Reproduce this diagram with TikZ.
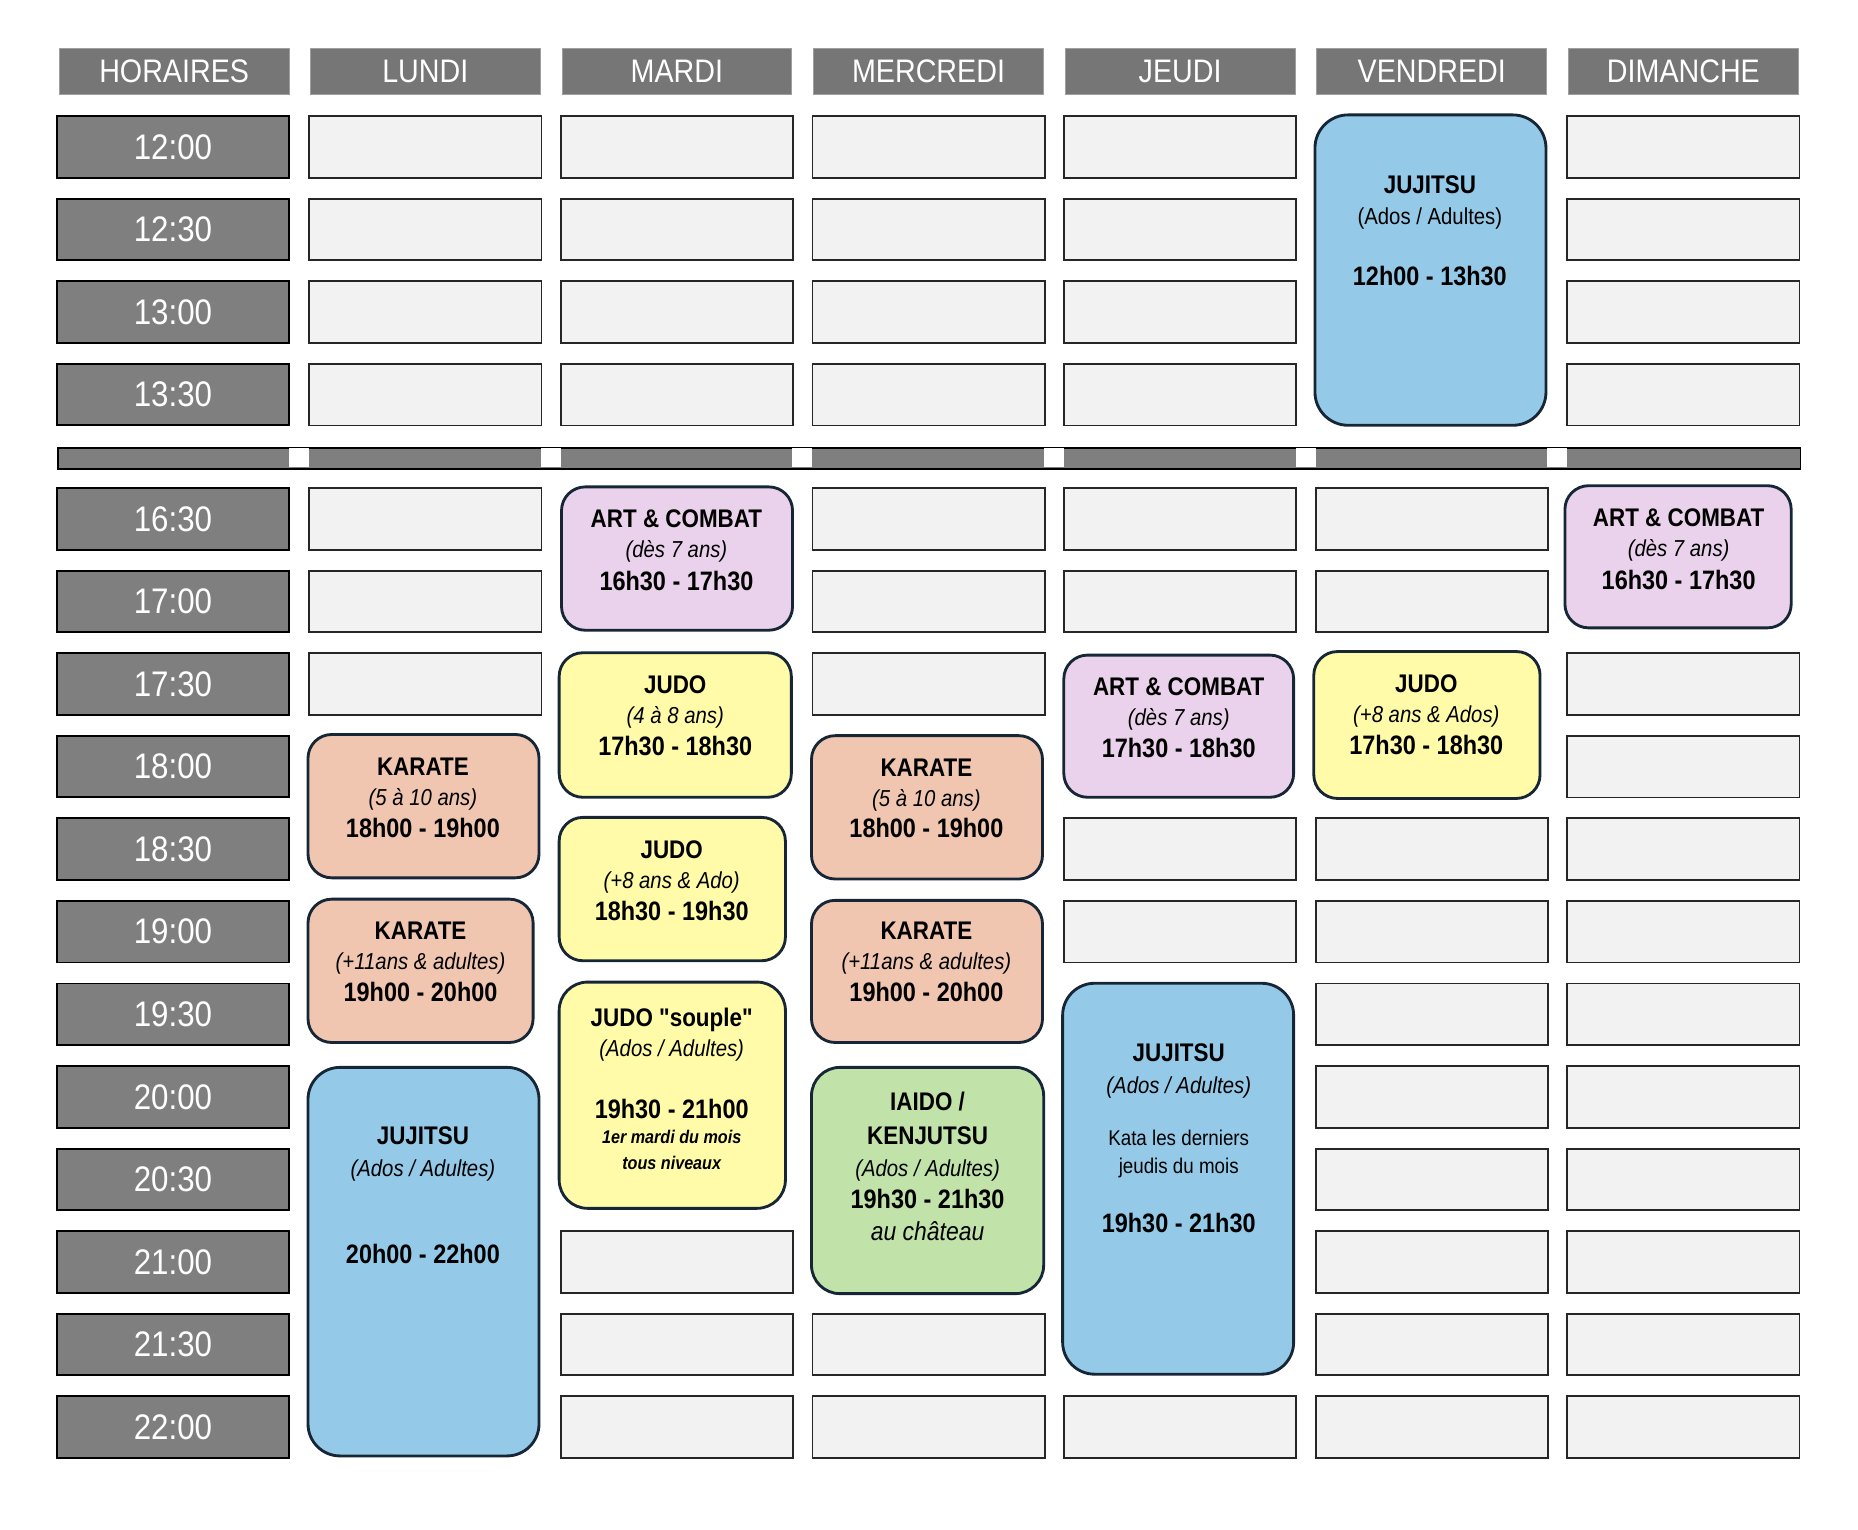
\documentclass[tikz,border=0pt]{standalone}
\usepackage{fontspec}
\setmainfont{Liberation Sans}[FakeStretch=0.88,Ligatures=TeXOff]
\definecolor{hdrgray}{RGB}{118,118,118}
\definecolor{timegray}{RGB}{127,127,127}
\definecolor{cellgray}{RGB}{242,242,242}
\definecolor{evborder}{RGB}{22,38,54}
\definecolor{evblue}{RGB}{148,202,232}
\definecolor{evpurple}{RGB}{235,210,236}
\definecolor{evyellow}{RGB}{255,251,168}
\definecolor{evsalmon}{RGB}{240,198,176}
\definecolor{evgreen}{RGB}{193,227,170}
\newcommand\evbox[7]{%
  \node[evstyle,fill=#6,rounded corners=#7pt,anchor=north west,
        minimum width={(#4-#2)*1pt},minimum height={(#5-#3)*1pt}] (#1) at (#2,#3) {};}
\begin{document}
\begin{tikzpicture}[x=1pt,y=-1pt,
  hdr/.style={fill=hdrgray,draw=hdrgray!70,line width=0.8pt,minimum width=194pt,minimum height=39pt,
    inner sep=0pt,text=white,font=\fontsize{27.5}{27.5}\selectfont,text height=18.9pt,text depth=0pt},
  timecell/.style={fill=timegray,draw=black,line width=1.6pt,minimum width=196pt,minimum height=52pt,
    inner sep=0pt,text=white,font=\fontsize{30}{30}\selectfont,text height=20.6pt,text depth=0pt},
  emptycell/.style={fill=cellgray,draw=black!85,line width=1.5pt,minimum width=196pt,minimum height=52pt,inner sep=0pt},
  evstyle/.style={draw=evborder,line width=2.4pt,inner sep=0pt,outer sep=0pt},
  ttl/.style={inner sep=0pt,font=\bfseries\fontsize{21.5}{21.5}\selectfont,text height=14.8pt,text depth=0pt},
  tme/.style={inner sep=0pt,font=\bfseries\fontsize{22.5}{22.5}\selectfont,text height=15.5pt,text depth=0pt},
  sub/.style={inner sep=0pt,font=\itshape\fontsize{19.5}{19.5}\selectfont,text height=13.4pt,text depth=0pt},
  subr/.style={inner sep=0pt,font=\fontsize{19.5}{19.5}\selectfont,text height=13.4pt,text depth=0pt},
  note/.style={inner sep=0pt,font=\fontsize{18}{18}\selectfont,text height=12.4pt,text depth=0pt},
  smallbi/.style={inner sep=0pt,font=\bfseries\itshape\fontsize{15.5}{15.5}\selectfont,text height=10.7pt,text depth=0pt},
  chateau/.style={inner sep=0pt,font=\itshape\fontsize{22}{22}\selectfont,text height=15.1pt,text depth=0pt}
]
\useasboundingbox (0,0) rectangle (1568.4,1291.5);

% headers
\node[hdr] (hH) at (147,60.5) {HORAIRES};
\foreach \i/\t in {1/LUNDI,2/MARDI,3/MERCREDI,4/JEUDI,5/VENDREDI,6/DIMANCHE}{
  \node[hdr] (h\i) at ({261+212.4*(\i-1)+98},60.5) {\t};
}

% time cells
\foreach \r/\t in {0/12:00,1/12:30,2/13:00,3/13:30}{
  \node[timecell] (tu\r) at (146,{98+69.7*\r+26}) {\t};
}
\foreach \r/\t in {0/16:30,1/17:00,2/17:30,3/18:00,4/18:30,5/19:00,6/19:30,7/20:00,8/20:30,9/21:00,10/21:30,11/22:00}{
  \node[timecell] (tl\r) at (146,{412+69.7*\r+26}) {\t};
}

% separator bar
\node[fill=timegray,draw=black,line width=1.6pt,minimum width=1471pt,minimum height=18pt,inner sep=0pt,anchor=north west] (sep) at (48,377) {};
\foreach \g in {0,1,2,3,4,5}{
  \fill[white] ({244+212.4*\g},378) rectangle ({261+212.4*\g},394);
}

% empty cells, upper block
\foreach \c in {1,2,3,4,6}{
  \foreach \r in {0,1,2,3}{
    \node[emptycell] (eu-\c-\r) at ({261+212.4*(\c-1)+98},{98+69.7*\r+26}) {};
  }
}
% empty cells, lower block
\foreach \c/\r in {1/0,1/1,1/2,
  2/9,2/10,2/11,
  3/0,3/1,3/2,3/10,3/11,
  4/0,4/1,4/4,4/5,4/11,
  5/0,5/1,5/4,5/5,5/6,5/7,5/8,5/9,5/10,5/11,
  6/2,6/3,6/4,6/5,6/6,6/7,6/8,6/9,6/10,6/11}{
  \node[emptycell] (el-\c-\r) at ({261+212.4*(\c-1)+98},{412+69.7*\r+26}) {};
}

% events
\evbox{venJJ}{1110}{97}{1305}{359}{evblue}{28}
\node[ttl] (venJJ-a) at (1207,156) {JUJITSU};
\node[subr] (venJJ-b) at (1207,183) {(Ados / Adultes)};
\node[tme] (venJJ-c) at (1207,233) {12h00 - 13h30};

\evbox{marAC}{474}{411}{669}{532}{evpurple}{20}
\node[ttl] (marAC-a) at (571,438) {ART \& COMBAT};
\node[sub] (marAC-b) at (571,464) {(dès 7 ans)};
\node[tme] (marAC-c) at (571,491) {16h30 - 17h30};

\evbox{dimAC}{1321}{410}{1512}{530}{evpurple}{20}
\node[ttl] (dimAC-a) at (1417,437) {ART \& COMBAT};
\node[sub] (dimAC-b) at (1417,463) {(dès 7 ans)};
\node[tme] (dimAC-c) at (1417,490) {16h30 - 17h30};

\evbox{marJa}{472}{551}{668}{673}{evyellow}{20}
\node[ttl] (marJa-a) at (570,578) {JUDO};
\node[sub] (marJa-b) at (570,604) {(4 à 8 ans)};
\node[tme] (marJa-c) at (570,630) {17h30 - 18h30};

\evbox{marJb}{472}{690}{663}{811}{evyellow}{20}
\node[ttl] (marJb-a) at (567,717) {JUDO};
\node[sub] (marJb-b) at (567,743) {(+8 ans \& Ado)};
\node[tme] (marJb-c) at (567,769) {18h30 - 19h30};

\evbox{marJc}{472}{829}{663}{1020}{evyellow}{24}
\node[ttl] (marJc-a) at (567,859) {JUDO "souple"};
\node[sub] (marJc-b) at (567,885) {(Ados / Adultes)};
\node[tme] (marJc-c) at (567,936) {19h30 - 21h00};
\node[smallbi] (marJc-d) at (567,960) {1er mardi du mois};
\node[smallbi] (marJc-e) at (567,982) {tous niveaux};

\evbox{lunKa}{260}{620}{455}{741}{evsalmon}{20}
\node[ttl] (lunKa-a) at (357,647) {KARATE};
\node[sub] (lunKa-b) at (357,673) {(5 à 10 ans)};
\node[tme] (lunKa-c) at (357,699) {18h00 - 19h00};

\evbox{lunKb}{260}{759}{450}{880}{evsalmon}{20}
\node[ttl] (lunKb-a) at (355,786) {KARATE};
\node[sub] (lunKb-b) at (355,812) {(+11ans \& adultes)};
\node[tme] (lunKb-c) at (355,838) {19h00 - 20h00};

\evbox{lunJJ}{260}{901}{455}{1229}{evblue}{27}
\node[ttl] (lunJJ-a) at (357,959) {JUJITSU};
\node[sub] (lunJJ-b) at (357,986) {(Ados / Adultes)};
\node[tme] (lunJJ-c) at (357,1059) {20h00 - 22h00};

\evbox{merKa}{685}{621}{880}{742}{evsalmon}{20}
\node[ttl] (merKa-a) at (782,648) {KARATE};
\node[sub] (merKa-b) at (782,674) {(5 à 10 ans)};
\node[tme] (merKa-c) at (782,699) {18h00 - 19h00};

\evbox{merKb}{685}{760}{880}{880}{evsalmon}{20}
\node[ttl] (merKb-a) at (782,786) {KARATE};
\node[sub] (merKb-b) at (782,812) {(+11ans \& adultes)};
\node[tme] (merKb-c) at (782,838) {19h00 - 20h00};

\evbox{merIK}{685}{901}{881}{1092}{evgreen}{24}
\node[ttl] (merIK-a) at (783,930) {IAIDO /};
\node[ttl] (merIK-b) at (783,959) {KENJUTSU};
\node[sub] (merIK-c) at (783,986) {(Ados / Adultes)};
\node[tme] (merIK-d) at (783,1012) {19h30 - 21h30};
\node[chateau] (merIK-e) at (783,1040) {au château};

\evbox{jeuAC}{898}{553}{1092}{673}{evpurple}{20}
\node[ttl] (jeuAC-a) at (995,580) {ART \& COMBAT};
\node[sub] (jeuAC-b) at (995,606) {(dès 7 ans)};
\node[tme] (jeuAC-c) at (995,632) {17h30 - 18h30};

\evbox{jeuJJ}{897}{830}{1092}{1160}{evblue}{27}
\node[ttl] (jeuJJ-a) at (995,889) {JUJITSU};
\node[sub] (jeuJJ-b) at (995,916) {(Ados / Adultes)};
\node[note] (jeuJJ-c) at (995,961) {Kata les derniers};
\node[note] (jeuJJ-d) at (995,984) {jeudis du mois};
\node[tme] (jeuJJ-e) at (995,1033) {19h30 - 21h30};

\evbox{venJ}{1109}{550}{1300}{674}{evyellow}{20}
\node[ttl] (venJ-a) at (1204,577) {JUDO};
\node[sub] (venJ-b) at (1204,603) {(+8 ans \& Ados)};
\node[tme] (venJ-c) at (1204,629) {17h30 - 18h30};
\end{tikzpicture}
\end{document}
